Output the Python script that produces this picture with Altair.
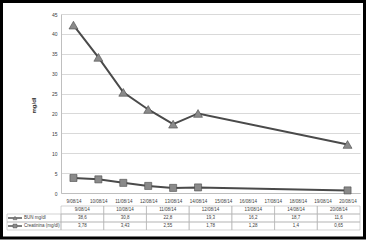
import altair as alt
import pandas as pd

# ---- data ----
axis_dates = ["9/08/14", "10/08/14", "11/08/14", "12/08/14", "13/08/14", "14/08/14",
              "15/08/14", "16/08/14", "17/08/14", "18/08/14", "19/08/14", "20/08/14"]
point_dates = ["9/08/14", "10/08/14", "11/08/14", "12/08/14", "13/08/14", "14/08/14", "20/08/14"]
bun_values = [42.2, 34.1, 25.3, 21.0, 17.3, 20.0, 12.2]
creat_values = [3.78, 3.43, 2.55, 1.78, 1.28, 1.4, 0.65]

table_cols = ["9/08/14", "10/08/14", "11/08/14", "12/08/14", "13/08/14", "14/08/14", "20/08/14"]
table_bun = ["38,6", "30,8", "22,8", "19,3", "16,2", "18,7", "11,6"]
table_creat = ["3,78", "3,43", "2,55", "1,78", "1,28", "1,4", "0,65"]
series_names = ["BUN", "Creat"]
series_labels = ["BUN mg/dl", "Creatinina (mg/dl)"]
table_rows = ["hdr", "BUN", "Creat"]

FONT = "Liberation Sans"
TXT = "#404040"
LINE = "#4a4a4a"

main_df = pd.DataFrame({
    "date": point_dates * 2,
    "value": bun_values + creat_values,
    "series": ["BUN"] * len(bun_values) + ["Creat"] * len(creat_values),
})

cells = []
for i, c in enumerate(table_cols):
    cells.append({"tcol": c, "trow": "hdr", "txt": c})
    cells.append({"tcol": c, "trow": "BUN", "txt": table_bun[i]})
    cells.append({"tcol": c, "trow": "Creat", "txt": table_creat[i]})
tab_df = pd.DataFrame(cells)
lab_df = pd.DataFrame({"trow": series_names, "label": series_labels, "series": series_names})

W, H = 299, 179

x_main = alt.X("date:N",
               scale=alt.Scale(type="point", domain=axis_dates, padding=0.5),
               axis=alt.Axis(title=None, labelAngle=0, labelFontSize=4.5, labelColor=TXT,
                             ticks=False, domainColor="#bfbfbf", labelPadding=5, grid=False,
                             labelFont=FONT))
y_main = alt.Y("value:Q",
               scale=alt.Scale(domain=[0, 45], nice=False),
               axis=alt.Axis(title="mg/dl", values=list(range(0, 46, 5)), labelFontSize=5,
                             labelColor=TXT, ticks=False, domainColor="#bfbfbf",
                             gridColor="#d9d9d9", labelPadding=4, titleFontSize=6,
                             titleFontWeight="bold", titleColor="#333333", titleX=-25,
                             titleY=91, labelFont=FONT, titleFont=FONT))

shape_scale = alt.Scale(domain=series_names, range=["triangle-up", "square"])

lines = alt.Chart(main_df).mark_line(color=LINE, strokeWidth=2).encode(
    x=x_main, y=y_main, detail="series:N")
points = alt.Chart(main_df).mark_point(filled=True, fill="#8a8a8a", stroke=LINE,
                                       strokeWidth=0.6, opacity=1).encode(
    x=x_main, y=y_main,
    shape=alt.Shape("series:N", scale=shape_scale, legend=None),
    size=alt.Size("series:N", scale=alt.Scale(domain=series_names, range=[80, 50]), legend=None))
main = alt.layer(lines, points)

x_tab = alt.X("tcol:N", scale=alt.Scale(type="band", domain=table_cols, range=[0, W],
                                        paddingInner=0, paddingOuter=0), axis=None)
row_scale = alt.Scale(type="band", domain=table_rows, range=[192, 216],
                      paddingInner=0, paddingOuter=0)
y_tab = alt.Y("trow:N", scale=row_scale, axis=None)
y_tab_c = alt.Y("trow:N", scale=row_scale, axis=None, bandPosition=0.5)

cell_rects = alt.Chart(tab_df).mark_rect(filled=False, stroke="#b5b5b5", strokeWidth=0.6).encode(
    x=x_tab, y=y_tab)
cell_text = alt.Chart(tab_df).mark_text(fontSize=4.5, color=TXT, font=FONT).encode(
    x=alt.X("tcol:N", scale=alt.Scale(type="band", domain=table_cols, range=[0, W],
                                      paddingInner=0, paddingOuter=0), axis=None, bandPosition=0.5),
    y=y_tab_c, text="txt:N")
table = alt.layer(cell_rects, cell_text)

lab_rects = alt.Chart(lab_df).mark_rect(filled=False, stroke="#b5b5b5", strokeWidth=0.6).encode(
    x=alt.value(-54), x2=alt.value(0), y=y_tab)
key_rules = alt.Chart(lab_df).mark_rule(color=LINE, strokeWidth=1.4).encode(
    x=alt.value(-53), x2=alt.value(-39), y=y_tab_c)
key_points = alt.Chart(lab_df).mark_point(filled=True, fill="#8a8a8a", stroke=LINE,
                                          strokeWidth=0.4, opacity=1).encode(
    x=alt.value(-46), y=y_tab_c,
    shape=alt.Shape("series:N", scale=shape_scale, legend=None),
    size=alt.value(16))
key_text = alt.Chart(lab_df).mark_text(fontSize=4.5, color=TXT, align="left", font=FONT).encode(
    x=alt.value(-37), y=y_tab_c, text="label:N")
labels = alt.layer(lab_rects, key_rules, key_points, key_text)

frame = alt.Chart(pd.DataFrame({"k": [0]})).mark_rect(filled=False, stroke="black",
                                                       strokeWidth=3).encode(
    x=alt.value(-59.5), x2=alt.value(303.5), y=alt.value(-12.5), y2=alt.value(224))

chart = alt.layer(main, table, labels, frame).resolve_scale(
    x="independent", y="independent", shape="independent", size="independent"
).properties(
    width=W, height=H,
    autosize=alt.AutoSizeParams(type="none"),
    padding={"left": 61, "top": 14, "right": 11, "bottom": 49},
    background="white",
).configure_view(strokeWidth=0)

chart.save("out.html", embed_options={"renderer": "svg", "actions": False})
